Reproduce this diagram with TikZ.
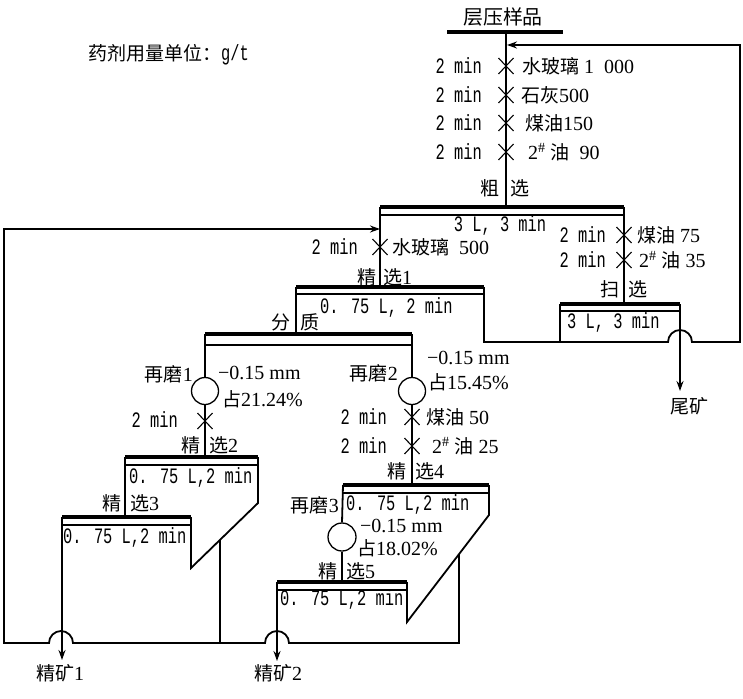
\documentclass[tikz,border=0pt]{standalone}
\usepackage{fontspec}
\setmainfont{Liberation Serif}
\newfontfamily\cjkfont[Scale=0.95]{Noto Sans CJK SC}
\newfontfamily\mnfont[Scale=1.1,FakeStretch=0.7]{Liberation Mono}
\usetikzlibrary{arrows.meta}
\newcommand{\zh}[1]{{\cjkfont #1}}
\newcommand{\mn}[1]{{\mnfont #1}}
\tikzset{
  flow/.style={line width=1.8pt},
  topbar/.style={line width=4.5pt},
  subbar/.style={line width=1.2pt},
  xmark/.style={line width=1.1pt},
  arr/.style={flow,-{Stealth[length=10pt,width=7pt]}},
  txt/.style={inner sep=0pt,font=\fontsize{20}{22}\selectfont},
  mill/.style={circle,draw,line width=1.3pt,minimum size=27pt,inner sep=0pt},
  xm/.pic={\draw[xmark] (-7.5,-8) -- (7.5,8) (-7.5,8) -- (7.5,-8);}
}
\begin{document}
\begin{tikzpicture}[x=1pt,y=-1pt]
\useasboundingbox (0,0) rectangle (743,698);

% ---------- texts at top
\node[txt] (feed) at (503,17) {\fontsize{21}{23}\selectfont\zh{层压样品}};
\node[txt,anchor=west] (unit) at (88,55) {\zh{药剂用量单位：}\mn{g/t}};

% ---------- feed line
\coordinate (F) at (506,32);
\coordinate (Rfeed) at (506,207);
\draw[topbar] (447,32) -- (563,32);
\draw[flow] (F) -- (Rfeed);

\pic at (506,66) {xm};
\pic at (506,95) {xm};
\pic at (506,123) {xm};
\pic at (506,152) {xm};
\node[txt,anchor=east] (t1) at (482,66) {\mn{2 min}};
\node[txt,anchor=east] (t2) at (482,95) {\mn{2 min}};
\node[txt,anchor=east] (t3) at (482,123) {\mn{2 min}};
\node[txt,anchor=east] (t4) at (482,152) {\mn{2 min}};
\node[txt,anchor=west] (r1) at (522,66) {\zh{水玻璃} 1\ \ 000};
\node[txt,anchor=west] (r2) at (521,95) {\zh{石灰}500};
\node[txt,anchor=west] (r3) at (525,123) {\zh{煤油}150};
\node[txt,anchor=west] (r4) at (528,152) {2\textsuperscript{\#} \zh{油}\ \ 90};
\node[txt,anchor=east] (cx1) at (500,188) {\zh{粗}};
\node[txt,anchor=west] (cx2) at (510,188) {\zh{选}};

% ---------- rougher
\coordinate (R1) at (380,207);
\coordinate (R2) at (624,207);
\coordinate (J1top) at (380,287);
\coordinate (Stop) at (624,304);
\draw[topbar] (R1) -- (R2);
\draw[subbar] (380,215) -- (624,215);
\draw[flow] (R1) -- (J1top);
\draw[flow] (R2) -- (Stop);
\node[txt] (rtext) at (500,225) {\mn{3 L, 3 min}};

\pic at (380,247) {xm};
\node[txt,anchor=east] (t5) at (358,247) {\mn{2 min}};
\node[txt,anchor=west] (r5) at (392,247) {\zh{水玻璃}\ \ 500};
\node[txt,anchor=east] (j1a) at (377,277) {\zh{精}};
\node[txt,anchor=west] (j1b) at (383,277) {\zh{选}1};

\pic at (624,235) {xm};
\pic at (624,260) {xm};
\node[txt,anchor=east] (t6) at (606,235) {\mn{2 min}};
\node[txt,anchor=east] (t7) at (606,260) {\mn{2 min}};
\node[txt,anchor=west] (r6) at (637,235) {\zh{煤油} 75};
\node[txt,anchor=west] (r7) at (639,260) {2\textsuperscript{\#} \zh{油} 35};
\node[txt,anchor=east] (sx1) at (620,289) {\zh{扫}};
\node[txt,anchor=west] (sx2) at (628,289) {\zh{选}};

% ---------- cleaner 1
\coordinate (C1l) at (296,287);
\coordinate (C1r) at (484,287);
\coordinate (Ftop) at (296,334);
\draw[topbar] (C1l) -- (C1r);
\draw[subbar] (296,294) -- (484,294);
\draw[flow] (C1l) -- (Ftop);
\node[txt,anchor=west] (c1text) at (320,307) {\mn{0. 75 L, 2 min}};
\node[txt,anchor=east] (fz1) at (291,322) {\zh{分}};
\node[txt,anchor=west] (fz2) at (300,322) {\zh{质}};

% ---------- scavenger
\coordinate (S1) at (560,304);
\coordinate (S2) at (680,304);
\coordinate (tail) at (680,391);
\draw[topbar] (S1) -- (S2);
\draw[subbar] (560,311) -- (680,311);
\draw[flow] (S1) -- (560,342);
\node[txt,anchor=west] (stext) at (567,322) {\mn{3 L, 3 min}};
\draw[arr] (S2) -- (tail);
\node[txt] (tailtxt) at (689,406) {\zh{尾矿}};

% return of middlings to feed
\coordinate (ret) at (507,45);
\draw[arr] (C1r) -- (484,342) -- (668,342)
  arc[start angle=180,end angle=360,radius=12] -- (740,342) -- (740,45) -- (ret);

% ---------- classification
\draw[topbar] (205,334) -- (412,334);
\draw[subbar] (205,345) -- (412,345);
\node[mill] (m1) at (205,391) {};
\node[mill] (m2) at (412,391) {};
\draw[flow] (205,334) -- (m1.north);
\draw[flow] (412,334) -- (m2.north);

\node[txt,anchor=east] (g1) at (193,374) {\zh{再磨}1};
\node[txt,anchor=west] (s1) at (218,373) {−0.15 mm};
\node[txt,anchor=west] (p1) at (222,399) {\zh{占}21.24\%};

\node[txt,anchor=east] (g2) at (398,373) {\zh{再磨}2};
\node[txt,anchor=west] (s2) at (427,358) {−0.15 mm};
\node[txt,anchor=west] (p2) at (428,382) {\zh{占}15.45\%};

% ---------- cleaner 2 and 3
\coordinate (C2top) at (205,457);
\draw[flow] (m1.south) -- (C2top);
\pic at (205,421) {xm};
\node[txt,anchor=east] (t8) at (178,420) {\mn{2 min}};
\node[txt,anchor=east] (j2a) at (201,445) {\zh{精}};
\node[txt,anchor=west] (j2b) at (209,445) {\zh{选}2};

\draw[topbar] (125,457) -- (258,457);
\draw[subbar] (125,465) -- (258,465);
\draw[flow] (125,457) -- (125,517);
\draw[flow] (258,457) -- (258,503) -- (191,568) -- (191,517);
\node[txt,anchor=west] (c2text) at (129,477) {\mn{0. 75 L,2 min}};
\node[txt,anchor=east] (j3a) at (122,503) {\zh{精}};
\node[txt,anchor=west] (j3b) at (130,503) {\zh{选}3};

\draw[topbar] (62,517) -- (191,517);
\draw[subbar] (62,525) -- (191,525);
\node[txt,anchor=west] (c3text) at (63,537) {\mn{0. 75 L,2 min}};
\coordinate (con1) at (62,660);
\draw[arr] (62,517) -- (con1);
\node[txt] (con1txt) at (60,673) {\zh{精矿}1};
\draw[flow] (220,540) -- (220,643);

% ---------- cleaner 4 and 5
\coordinate (C4top) at (412,485);
\draw[flow] (m2.south) -- (C4top);
\pic at (412,417) {xm};
\pic at (412,446) {xm};
\node[txt,anchor=east] (t9) at (387,417) {\mn{2 min}};
\node[txt,anchor=east] (t10) at (387,446) {\mn{2 min}};
\node[txt,anchor=west] (r8) at (426,417) {\zh{煤油} 50};
\node[txt,anchor=west] (r9) at (432,446) {2\textsuperscript{\#} \zh{油} 25};
\node[txt,anchor=east] (j4a) at (407,471) {\zh{精}};
\node[txt,anchor=west] (j4b) at (415,471) {\zh{选}4};

\draw[topbar] (343,485) -- (489,485);
\draw[subbar] (343,493) -- (489,493);
\node[mill,minimum size=28pt] (m3) at (342,537) {};
\draw[flow] (343,485) -- (m3.north);
\draw[flow] (489,485) -- (489,515) -- (407,622) -- (407,582);
\node[txt,anchor=west] (c4text) at (346,504) {\mn{0. 75 L,2 min}};
\node[txt,anchor=east] (g3) at (339,505) {\zh{再磨}3};
\node[txt,anchor=west] (s3) at (360,526) {−0.15 mm};
\node[txt,anchor=west] (p3) at (357,548) {\zh{占}18.02\%};

\coordinate (C5top) at (342,582);
\draw[flow] (m3.south) -- (C5top);
\node[txt,anchor=east] (j5a) at (338,571) {\zh{精}};
\node[txt,anchor=west] (j5b) at (346,571) {\zh{选}5};
\draw[topbar] (277,582) -- (407,582);
\draw[subbar] (277,590) -- (407,590);
\node[txt,anchor=west] (c5text) at (280,599) {\mn{0. 75 L,2 min}};
\coordinate (con2) at (277,661);
\draw[arr] (277,582) -- (con2);
\node[txt] (con2txt) at (278,673) {\zh{精矿}2};

% ---------- bottom return line to rougher
\draw[arr] (459,554) -- (459,643) -- (289,643)
  arc[start angle=0,end angle=-180,radius=12] -- (73,643)
  arc[start angle=0,end angle=-180,radius=12] -- (4,643) -- (4,229) -- (R1 |- 0,229);
\end{tikzpicture}
\end{document}
